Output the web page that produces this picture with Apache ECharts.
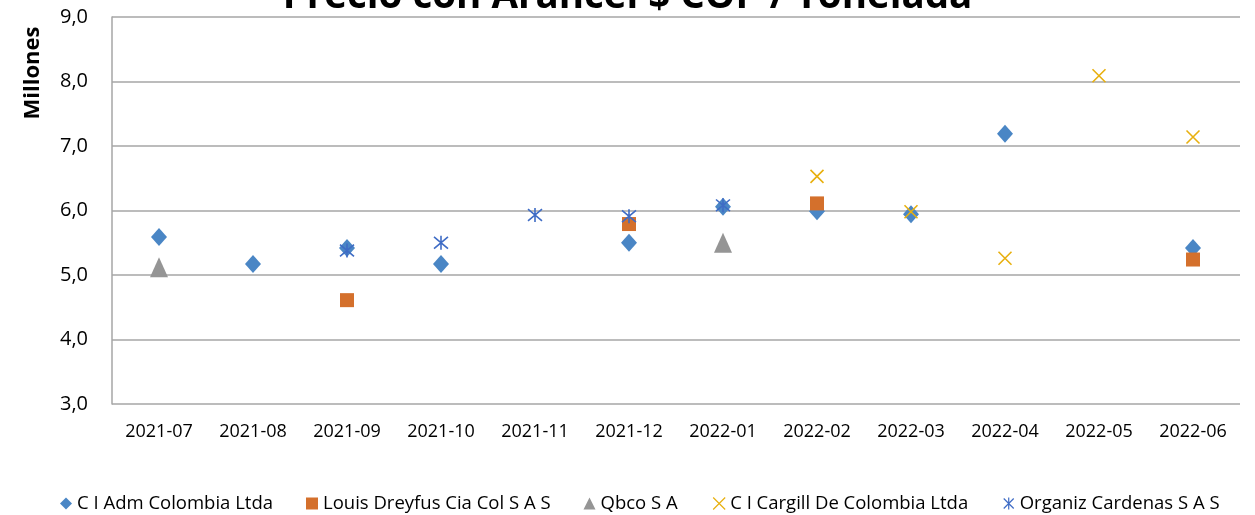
<!DOCTYPE html>
<html>
<head>
<meta charset="utf-8">
<script src="https://cdn.jsdelivr.net/npm/echarts@6/dist/echarts.min.js"></script>
<style>
  html, body { margin: 0; padding: 0; background: #fff; }
  #myChart { width: 1255px; height: 515px; }
</style>
</head>
<body>
<div id="myChart"></div>
<script>
// categories (months)
var months = ["2021-07", "2021-08", "2021-09", "2021-10", "2021-11", "2021-12",
  "2022-01", "2022-02", "2022-03", "2022-04", "2022-05", "2022-06"];
var seriesNames = ["C I Adm Colombia Ltda", "Louis Dreyfus Cia Col S A S", "Qbco S A",
  "C I Cargill De Colombia Ltda", "Organiz Cardenas S A S"];
// precio en millones COP / tonelada
var admData = [5.59, 5.17, 5.42, 5.17, null, 5.50, 6.06, 5.99, 5.94, 7.19, null, 5.42];
var dreyfusData = [null, null, 4.61, null, null, 5.79, null, 6.11, null, null, null, 5.24];
var qbcoData = [5.12, null, null, null, null, null, 5.50, null, null, null, null, null];
var cargillData = [null, null, null, null, null, null, null, 6.53, 5.98, 5.26, 8.09, 7.14];
var organizData = [null, null, 5.38, 5.50, 5.93, 5.91, 6.08, null, null, null, null, null];
var yTicks = [3, 4, 5, 6, 7, 8, 9];

var colors = ["#4A86C5", "#D4702C", "#959595", "#E8B00F", "#3F6CC5"];
var fontMain = "Open Sans";
var xPath = "path://M0,0L10,10M10,0L0,10";
var starPath = "path://M0,0L10,10M10,0L0,10M5,-1L5,11";

var chartInst = echarts.init(document.getElementById("myChart"));

function mk(name, data, symbol, size, color, stroke) {
  var s = {
    name: name,
    type: "scatter",
    data: data,
    symbol: symbol,
    symbolSize: size,
    itemStyle: { color: color, opacity: 1 },
    emphasis: { disabled: true },
  };
  if (stroke) {
    s.itemStyle = { color: "none", borderColor: color, borderWidth: 1.6, opacity: 1 };
  }
  return s;
}

chartInst.setOption({
  animation: false,
  title: {
    text: "Precio con Arancel $ COP / Tonelada",
    left: "center",
    top: -27,
    textStyle: { fontFamily: fontMain, fontWeight: "bold", fontSize: 38.5, color: "#000" },
  },
  graphic: [
    {
      type: "text",
      x: 33,
      y: 73,
      rotation: Math.PI / 2,
      style: {
        text: "Millones",
        fontFamily: fontMain, fontWeight: "bold", fontSize: 22, fill: "#000",
        align: "center", verticalAlign: "middle",
      },
    },
  ],
  grid: { left: 112, right: 15, top: 17, bottom: 111, outerBoundsMode: "none" },
  legend: {
    bottom: -3,
    left: 55,
    itemGap: 33,
    itemWidth: 12,
    itemHeight: 12,
    textStyle: { fontFamily: fontMain, fontSize: 18.5, color: "#000" },
    data: [
      { name: seriesNames[0], icon: "diamond" },
      { name: seriesNames[1], icon: "rect" },
      { name: seriesNames[2], icon: "triangle" },
      { name: seriesNames[3], icon: xPath, itemStyle: { color: "none", borderColor: colors[3], borderWidth: 1.2 } },
      { name: seriesNames[4], icon: starPath, itemStyle: { color: "none", borderColor: colors[4], borderWidth: 1.2 } },
    ],
  },
  xAxis: {
    type: "category",
    data: months,
    axisTick: { show: false },
    axisLine: { show: false },
    axisLabel: { fontFamily: fontMain, fontSize: 18, color: "#000", margin: 19 },
  },
  yAxis: {
    type: "value",
    min: yTicks[0],
    max: yTicks[yTicks.length - 1],
    interval: 1,
    axisLine: { show: true, lineStyle: { color: "#A6A6A6", width: 1.5 } },
    axisTick: { show: false },
    axisLabel: {
      fontFamily: fontMain, fontSize: 20, color: "#000", margin: 24,
      formatter: function (v) { return v.toFixed(1).replace(".", ","); },
    },
    splitLine: { lineStyle: { color: "#A6A6A6", width: 1.5 } },
  },
  series: [
    mk(seriesNames[0], admData, "diamond", [16, 18], colors[0]),
    mk(seriesNames[1], dreyfusData, "rect", 14, colors[1]),
    mk(seriesNames[2], qbcoData, "triangle", [18, 20], colors[2]),
    mk(seriesNames[3], cargillData, xPath, 13, colors[3], true),
    mk(seriesNames[4], organizData, starPath, 14, colors[4], true),
  ],
});
</script>
</body>
</html>
